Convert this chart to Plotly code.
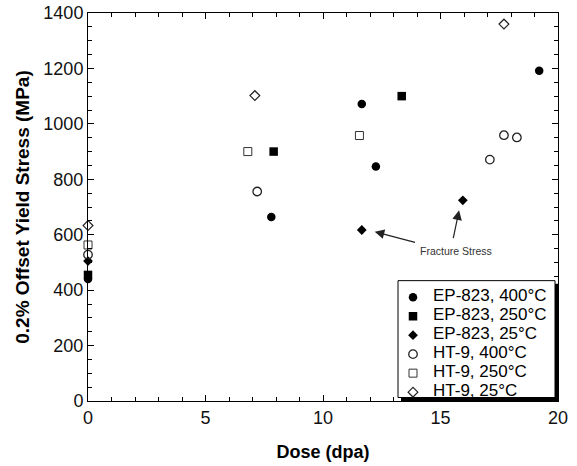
import plotly.graph_objects as go

# ---- data ----
ep400_x = [0, 7.8, 11.65, 12.25, 19.2]
ep400_y = [440, 664, 1072, 846, 1192]
ep250_x = [0, 7.9, 13.35]
ep250_y = [455, 900, 1100]
ep25_x = [0, 11.65, 15.95]
ep25_y = [505, 617, 724]
ht400_x = [0, 7.2, 17.1, 17.7, 18.25]
ht400_y = [528, 756, 871, 959, 951]
ht250_x = [0, 6.8, 11.55]
ht250_y = [563, 900, 958]
ht25_x = [0, 7.1, 17.7]
ht25_y = [633, 1102, 1360]

names = ["EP-823, 400°C", "EP-823, 250°C", "EP-823, 25°C",
         "HT-9, 400°C", "HT-9, 250°C", "HT-9, 25°C"]

FONT = "Liberation Sans, Arial, Helvetica, sans-serif"

series = [
    (ep400_x, ep400_y, dict(symbol="circle", size=8.5, color="black")),
    (ep250_x, ep250_y, dict(symbol="square", size=8.5, color="black")),
    (ep25_x, ep25_y, dict(symbol="diamond", size=7.5, color="black")),
    (ht400_x, ht400_y, dict(symbol="circle-open", size=8.5, color="#222", line=dict(width=1.3))),
    (ht250_x, ht250_y, dict(symbol="square-open", size=8, color="#333", line=dict(width=1))),
    (ht25_x, ht25_y, dict(symbol="diamond-open", size=7.5, color="#222", line=dict(width=1.2))),
]

fig = go.Figure()
for (xs, ys, mk), nm in zip(series, names):
    fig.add_trace(go.Scatter(
        x=xs, y=ys, mode="markers", marker=mk, cliponaxis=False,
        name='<span style="font-size:17px">' + nm + '</span>'))

W, H = 577, 466
ml, mr, mt, mb = 88, 19, 13, 64.5
pw = W - ml - mr
ph = H - mt - mb

def px2paper_x(px):  # page pixel -> paper fraction
    return (px - ml) / pw

def px2paper_y(py):
    return (H - mb - py) / ph

shapes = [
    # legend shadow
    dict(type="rect", xref="paper", yref="paper", layer="above",
         x0=px2paper_x(401), x1=px2paper_x(558), y0=px2paper_y(401.5), y1=px2paper_y(284),
         fillcolor="black", line=dict(width=0)),
    # legend box
    dict(type="rect", xref="paper", yref="paper", layer="above",
         x0=px2paper_x(398), x1=px2paper_x(555), y0=px2paper_y(398), y1=px2paper_y(281),
         fillcolor="white", line=dict(color="black", width=1)),
]

annotations = [
    dict(x=15.68, y=540, xref="x", yref="y", text="Fracture Stress", showarrow=False,
         font=dict(family=FONT, size=10.5, color="#333")),
    dict(x=12.2, y=611, ax=13.98, ay=571, xref="x", yref="y", axref="x", ayref="y",
         text="", showarrow=True, arrowhead=2, arrowsize=1.6, arrowwidth=1.2, arrowcolor="#222"),
    dict(x=15.79, y=688, ax=15.53, ay=582, xref="x", yref="y", axref="x", ayref="y",
         text="", showarrow=True, arrowhead=2, arrowsize=1.6, arrowwidth=1.2, arrowcolor="#222"),
]

axis_common = dict(
    showline=True, linecolor="black", linewidth=1, mirror="allticks",
    ticks="inside", ticklen=6, tickwidth=1, tickcolor="black",
    showgrid=False, zeroline=False, automargin=False,
    tickfont=dict(family=FONT, size=18, color="#111"),
)

fig.update_layout(
    width=W, height=H,
    margin=dict(l=ml, r=mr, t=mt, b=mb, autoexpand=False),
    paper_bgcolor="white", plot_bgcolor="white",
    font=dict(family=FONT, color="black"),
    xaxis=dict(range=[0, 20], tickvals=[0, 5, 10, 15, 20],
               minor=dict(dtick=1, ticks="inside", ticklen=4, tickcolor="black", showgrid=False),
               title=dict(text="<b>Dose (dpa)</b>", font=dict(family=FONT, size=18), standoff=18),
               **axis_common),
    yaxis=dict(range=[0, 1400], tickvals=[0, 200, 400, 600, 800, 1000, 1200, 1400],
               minor=dict(dtick=50, ticks="inside", ticklen=4, tickcolor="black", showgrid=False),
               title=dict(text="<b>0.2% Offset Yield Stress (MPa)</b>", font=dict(family=FONT, size=19), standoff=8),
               **axis_common),
    showlegend=True,
    legend=dict(x=px2paper_x(393), y=px2paper_y(283), xanchor="left", yanchor="top",
                bgcolor="rgba(0,0,0,0)", borderwidth=0, itemwidth=30,
                font=dict(family=FONT, size=11, color="black"),
                tracegroupgap=0),
    shapes=shapes,
    annotations=annotations,
)

fig.write_html("out.html", config={"displayModeBar": False},
               post_script="document.body.style.margin='0px';")
